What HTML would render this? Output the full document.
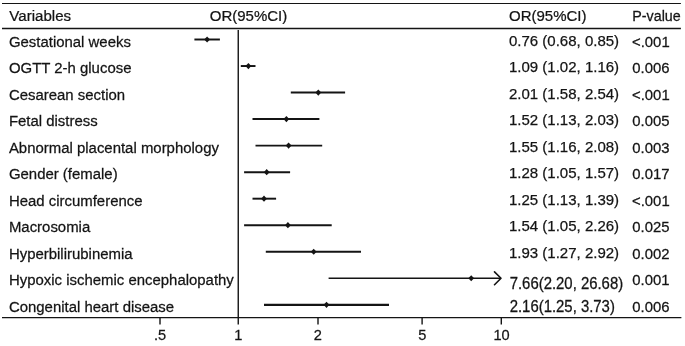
<!DOCTYPE html>
<html><head><meta charset="utf-8"><title>Forest plot</title>
<style>
html,body{margin:0;padding:0;background:#fff;}
svg{display:block}
text{font-family:"Liberation Sans",Arial,Helvetica,sans-serif;fill:#141414;stroke:#141414;stroke-width:0.25px;}
</style></head><body>
<svg width="685" height="346" viewBox="0 0 685 346">
<defs><filter id="soft" x="-2%" y="-2%" width="104%" height="104%" color-interpolation-filters="sRGB"><feGaussianBlur stdDeviation="0.35"/></filter></defs>
<rect width="685" height="346" fill="#fff"/>
<g filter="url(#soft)">
<g stroke="#141414" fill="none">
<line x1="2" y1="3.5" x2="680.9" y2="3.5" stroke-width="1.1"/>
<line x1="2" y1="28.5" x2="680.9" y2="28.5" stroke-width="1.7"/>
<line x1="2" y1="317.6" x2="681.4" y2="317.6" stroke-width="1.35"/>
<line x1="238.25" y1="29.9" x2="238.25" y2="324.4" stroke-width="1.4"/>

<line x1="160.0" y1="317.5" x2="160.0" y2="324.4" stroke-width="1.4"/>
<line x1="318.0" y1="317.5" x2="318.0" y2="324.4" stroke-width="1.4"/>
<line x1="422.1" y1="317.5" x2="422.1" y2="324.4" stroke-width="1.4"/>
<line x1="501.3" y1="317.5" x2="501.3" y2="324.4" stroke-width="1.4"/>
</g>
<text transform="translate(9.35 20.80) scale(1 0.99)" font-size="15.08">Variables</text>
<text transform="translate(209.80 20.60) scale(1 0.98)" font-size="15">OR(95%CI)</text>
<text transform="translate(509.00 20.60) scale(1 0.98)" font-size="15">OR(95%CI)</text>
<text transform="translate(632.30 20.60) scale(1 1.055)" font-size="14.3">P-value</text>
<text transform="translate(8.90 46.90) scale(1 1.04)" font-size="14.94">Gestational weeks</text>
<line x1="194.4" y1="39.50" x2="219.9" y2="39.50" stroke="#141414" stroke-width="1.95"/>
<polygon points="204.2,39.50 207.1,36.40 210.0,39.50 207.1,42.60" fill="#141414"/>
<text transform="translate(509.00 45.60) scale(1 1.0)" font-size="15">0.76 (0.68, 0.85)</text>
<text transform="translate(632.00 46.50) scale(1 1.02)" font-size="14.9">&lt;.001</text>
<text transform="translate(8.90 73.41) scale(1 1.04)" font-size="14.94">OGTT 2-h glucose</text>
<line x1="240.8" y1="66.03" x2="255.5" y2="66.03" stroke="#141414" stroke-width="1.95"/>
<polygon points="245.5,66.03 248.4,62.93 251.3,66.03 248.4,69.13" fill="#141414"/>
<text transform="translate(509.00 72.09) scale(1 1.0)" font-size="15">1.09 (1.02, 1.16)</text>
<text transform="translate(632.30 73.05) scale(1 1.02)" font-size="14.9">0.006</text>
<text transform="translate(8.90 99.92) scale(1 1.04)" font-size="14.94">Cesarean section</text>
<line x1="290.8" y1="92.56" x2="345.1" y2="92.56" stroke="#141414" stroke-width="1.95"/>
<polygon points="315.4,92.56 318.3,89.46 321.2,92.56 318.3,95.66" fill="#141414"/>
<text transform="translate(509.00 98.58) scale(1 1.0)" font-size="15">2.01 (1.58, 2.54)</text>
<text transform="translate(632.00 99.60) scale(1 1.02)" font-size="14.9">&lt;.001</text>
<text transform="translate(8.90 126.43) scale(1 1.04)" font-size="14.94">Fetal distress</text>
<line x1="252.5" y1="119.09" x2="319.4" y2="119.09" stroke="#141414" stroke-width="1.95"/>
<polygon points="283.5,119.09 286.4,115.99 289.3,119.09 286.4,122.19" fill="#141414"/>
<text transform="translate(509.00 125.07) scale(1 1.0)" font-size="15">1.52 (1.13, 2.03)</text>
<text transform="translate(632.30 126.15) scale(1 1.02)" font-size="14.9">0.005</text>
<text transform="translate(8.90 152.94) scale(1 1.04)" font-size="14.94">Abnormal placental morphology</text>
<line x1="255.5" y1="145.62" x2="322.2" y2="145.62" stroke="#141414" stroke-width="1.95"/>
<polygon points="285.7,145.62 288.6,142.52 291.5,145.62 288.6,148.72" fill="#141414"/>
<text transform="translate(509.00 151.56) scale(1 1.0)" font-size="15">1.55 (1.16, 2.08)</text>
<text transform="translate(632.30 152.70) scale(1 1.02)" font-size="14.9">0.003</text>
<text transform="translate(8.90 179.45) scale(1 1.04)" font-size="14.94">Gender (female)</text>
<line x1="244.1" y1="172.15" x2="290.1" y2="172.15" stroke="#141414" stroke-width="1.95"/>
<polygon points="263.8,172.15 266.7,169.05 269.6,172.15 266.7,175.25" fill="#141414"/>
<text transform="translate(509.00 178.05) scale(1 1.0)" font-size="15">1.28 (1.05, 1.57)</text>
<text transform="translate(632.30 179.25) scale(1 1.02)" font-size="14.9">0.017</text>
<text transform="translate(8.90 205.96) scale(1 1.04)" font-size="14.94">Head circumference</text>
<line x1="252.5" y1="198.68" x2="276.1" y2="198.68" stroke="#141414" stroke-width="1.95"/>
<polygon points="261.1,198.68 264.0,195.58 266.9,198.68 264.0,201.78" fill="#141414"/>
<text transform="translate(509.00 204.54) scale(1 1.0)" font-size="15">1.25 (1.13, 1.39)</text>
<text transform="translate(632.00 205.80) scale(1 1.02)" font-size="14.9">&lt;.001</text>
<text transform="translate(8.90 232.47) scale(1 1.04)" font-size="14.94">Macrosomia</text>
<line x1="244.1" y1="225.21" x2="331.7" y2="225.21" stroke="#141414" stroke-width="1.95"/>
<polygon points="285.0,225.21 287.9,222.11 290.8,225.21 287.9,228.31" fill="#141414"/>
<text transform="translate(509.00 231.03) scale(1 1.0)" font-size="15">1.54 (1.05, 2.26)</text>
<text transform="translate(632.30 232.35) scale(1 1.02)" font-size="14.9">0.025</text>
<text transform="translate(8.90 258.98) scale(1 1.04)" font-size="14.94">Hyperbilirubinemia</text>
<line x1="265.8" y1="251.74" x2="361.0" y2="251.74" stroke="#141414" stroke-width="1.95"/>
<polygon points="310.8,251.74 313.7,248.64 316.6,251.74 313.7,254.84" fill="#141414"/>
<text transform="translate(509.00 257.52) scale(1 1.0)" font-size="15">1.93 (1.27, 2.92)</text>
<text transform="translate(632.30 258.90) scale(1 1.02)" font-size="14.9">0.002</text>
<text transform="translate(8.90 285.49) scale(1 1.04)" font-size="14.94">Hypoxic ischemic encephalopathy</text>
<line x1="328.6" y1="278.27" x2="501.0" y2="278.27" stroke="#141414" stroke-width="1.7"/>
<polyline points="494.5,271.9 501.0,278.27 494.5,284.7" stroke="#141414" stroke-width="1.6" stroke-linecap="round" stroke-linejoin="round" fill="none"/>
<polygon points="468.3,278.27 471.2,275.17 474.1,278.27 471.2,281.37" fill="#141414"/>
<text transform="translate(509.70 288.50) scale(1 1.07)" font-size="14.9">7.66(2.20, 26.68)</text>
<text transform="translate(632.30 285.00) scale(1 1.02)" font-size="14.9">0.001</text>
<text transform="translate(8.90 312.00) scale(1 1.04)" font-size="14.94">Congenital heart disease</text>
<line x1="264.0" y1="304.80" x2="389.0" y2="304.80" stroke="#141414" stroke-width="2.3"/>
<polygon points="323.6,304.80 326.5,301.70 329.4,304.80 326.5,307.90" fill="#141414"/>
<text transform="translate(509.70 312.20) scale(1 1.07)" font-size="14.9">2.16(1.25, 3.73)</text>
<text transform="translate(632.30 311.60) scale(1 1.02)" font-size="14.9">0.006</text>
<text transform="translate(160.10 339.80) scale(1 1.04)" font-size="14.6" text-anchor="middle">.5</text>
<text transform="translate(238.30 339.80) scale(1 1.04)" font-size="14.6" text-anchor="middle">1</text>
<text transform="translate(317.80 339.80) scale(1 1.04)" font-size="14.6" text-anchor="middle">2</text>
<text transform="translate(422.30 339.80) scale(1 1.04)" font-size="14.6" text-anchor="middle">5</text>
<text transform="translate(501.50 339.80) scale(1 1.04)" font-size="14.6" text-anchor="middle">10</text>
</g></svg></body></html>
